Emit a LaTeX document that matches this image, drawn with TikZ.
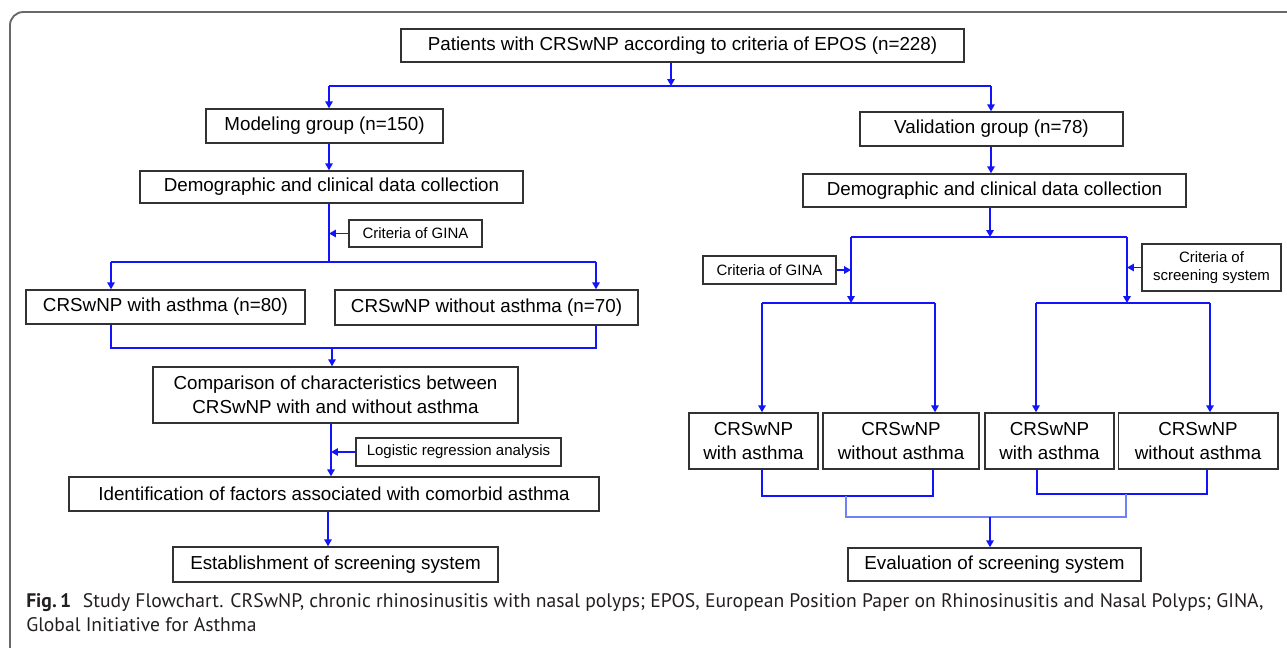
\documentclass[tikz,border=0pt]{standalone}
\usepackage{fontspec}
\setmainfont{Liberation Sans}
\newfontfamily\capfont{PT Sans}
\usetikzlibrary{arrows.meta}
\definecolor{linkblue}{RGB}{20,20,250}
\definecolor{lightlink}{RGB}{110,130,245}
\definecolor{boxgray}{RGB}{50,50,50}
\definecolor{framegray}{RGB}{105,105,105}
\definecolor{captext}{RGB}{35,31,32}
\tikzset{
  box/.style={draw=boxgray, line width=1.1pt, inner sep=0pt, align=center, font=\fontsize{14.1}{18}\selectfont},
  smallbox/.style={draw=boxgray, line width=1.1pt, inner sep=0pt, align=center, font=\fontsize{11.25}{14}\selectfont},
  link/.style={draw=linkblue, line width=1.1pt},
  lightline/.style={draw=lightlink, line width=1.1pt},
  arr/.style={link, -{Triangle[length=5.2pt, width=5.6pt]}},
}
\begin{document}
\begin{tikzpicture}[x=0.75pt, y=-0.75pt]
\useasboundingbox (0,0) rectangle (1287,647);
% frame
\draw[framegray, line width=1.4pt, rounded corners=10pt] (10,660) -- (10,12) -- (1300,12);

% nodes (left)
\node[box, minimum width=563*0.75pt, minimum height=33*0.75pt] (top) at (682.5,45.5) {Patients with CRSwNP according to criteria of EPOS (n=228)};
\node[box, minimum width=237*0.75pt, minimum height=34*0.75pt] (mod) at (324.5,126) {Modeling group (n=150)};
\node[box, minimum width=383*0.75pt, minimum height=32*0.75pt] (demL) at (331.5,187) {Demographic and clinical data collection};
\node[smallbox, minimum width=133*0.75pt, minimum height=27*0.75pt] (ginaL) at (415.5,233.5) {Criteria of GINA};
\node[box, minimum width=279*0.75pt, minimum height=34*0.75pt] (withL) at (165.5,307) {CRSwNP with asthma (n=80)};
\node[box, minimum width=303*0.75pt, minimum height=35*0.75pt] (withoutL) at (486.5,307.5) {CRSwNP without asthma (n=70)};
\node[box, minimum width=365*0.75pt, minimum height=56*0.75pt] (comp) at (335.5,395) {Comparison of characteristics between\\CRSwNP with and without asthma};
\node[smallbox, minimum width=205*0.75pt, minimum height=28*0.75pt] (logi) at (458.5,452) {Logistic regression analysis};
\node[box, minimum width=530*0.75pt, minimum height=34*0.75pt] (ident) at (334,494) {Identification of factors associated with comorbid asthma};
\node[box, minimum width=325*0.75pt, minimum height=35*0.75pt] (estab) at (335.5,564.5) {Establishment of screening system};

% nodes (right)
\node[box, minimum width=263*0.75pt, minimum height=34*0.75pt] (val) at (991.5,129) {Validation group (n=78)};
\node[box, minimum width=383*0.75pt, minimum height=33*0.75pt] (demR) at (994.5,190.5) {Demographic and clinical data collection};
\node[smallbox, minimum width=133*0.75pt, minimum height=28*0.75pt] (ginaR) at (769.5,270) {Criteria of GINA};
\node[smallbox, minimum width=139*0.75pt, minimum height=47*0.75pt] (scr) at (1211.5,267.5) {Criteria of\\screening system};
\node[box, minimum width=129*0.75pt, minimum height=56*0.75pt] (b1) at (753.5,441) {CRSwNP\\with asthma};
\node[box, minimum width=156*0.75pt, minimum height=56*0.75pt] (b2) at (901,441) {CRSwNP\\without asthma};
\node[box, minimum width=129*0.75pt, minimum height=56*0.75pt] (b3) at (1049.5,441) {CRSwNP\\with asthma};
\node[box, minimum width=159.5*0.75pt, minimum height=56*0.75pt] (b4) at (1198,441) {CRSwNP\\without asthma};
\node[box, minimum width=293*0.75pt, minimum height=33*0.75pt] (eval) at (994.5,564.5) {Evaluation of screening system};

% helper coordinates
\coordinate (s1) at (671,86);
\coordinate (sL) at (329,86);
\coordinate (sR) at (991,86);
\coordinate (g1) at (329,262);
\coordinate (gL) at (111,262);
\coordinate (gR) at (596,262);
\coordinate (m1) at (111,348);
\coordinate (m2) at (596,348);
\coordinate (mc) at (332,348);
\coordinate (cx) at (331,0);
\coordinate (ix) at (328,0);
\coordinate (r1) at (990,237);
\coordinate (rL) at (851,237);
\coordinate (rR) at (1127,237);
\coordinate (pL) at (851,303);
\coordinate (pR) at (1127,303);
\coordinate (pa) at (762,303);
\coordinate (pb) at (935,303);
\coordinate (pc) at (1036,303);
\coordinate (pd) at (1210,303);
\coordinate (q1) at (762,496);
\coordinate (q2) at (933,496);
\coordinate (q3) at (1037,494);
\coordinate (q4) at (1207,494);
\coordinate (qm) at (846,496);
\coordinate (qn) at (846,517);
\coordinate (qo) at (1126,517);
\coordinate (qp) at (1126,494);
\coordinate (qe) at (990,517);

% left connectors
\draw[arr] (top.south -| s1) -- (s1);
\draw[link] (sL) -- (sR);
\draw[arr] (sL) -- (mod.north -| sL);
\draw[arr] (sR) -- (val.north -| sR);
\draw[arr] (mod.south -| sL) -- (demL.north -| sL);
\draw[link] (demL.south -| g1) -- (g1);
\draw[arr] (ginaL.west) -- (ginaL.west -| g1);
\draw[link] (gL) -- (gR);
\draw[arr] (gL) -- (withL.north -| gL);
\draw[arr] (gR) -- (withoutL.north -| gR);
\draw[link] (withL.south -| m1) -- (m1) -- (m2) -- (withoutL.south -| m2);
\draw[arr] (mc) -- (comp.north -| mc);
\draw[arr] (comp.south -| cx) -- (ident.north -| cx);
\draw[arr] (logi.west) -- (logi.west -| cx);
\draw[arr] (ident.south -| ix) -- (estab.north -| ix);

% right connectors
\draw[arr] (val.south -| sR) -- (demR.north -| sR);
\draw[arr] (demR.south -| r1) -- (r1);
\draw[link] (rL) -- (rR);
\draw[arr] (rL) -- (pL);
\draw[arr] (rR) -- (pR);
\draw[arr] (ginaR.east) -- (ginaR.east -| rL);
\draw[arr] (scr.west) -- (scr.west -| rR);
\draw[link] (pa) -- (pb);
\draw[link] (pc) -- (pd);
\draw[arr] (pa) -- (b1.north -| pa);
\draw[arr] (pb) -- (b2.north -| pb);
\draw[arr] (pc) -- (b3.north -| pc);
\draw[arr] (pd) -- (b4.north -| pd);
\draw[link] (b1.south -| q1) -- (q1) -- (q2) -- (b2.south -| q2);
\draw[link] (b3.south -| q3) -- (q3) -- (q4) -- (b4.south -| q4);
\draw[lightline] (qm) -- (qn) -- (qo) -- (qp);
\draw[arr] (qe) -- (eval.north -| qe);

% caption
\node[anchor=north west, inner sep=0pt, align=left, text=captext, font=\capfont\fontsize{14.7}{18}\selectfont] (cap) at (26,593)
 {{\bfseries Fig.\,1}\hspace{0.6em}Study Flowchart. CRSwNP, chronic rhinosinusitis with nasal polyps; EPOS, European Position Paper on Rhinosinusitis and Nasal Polyps; GINA,\\Global Initiative for Asthma};
\end{tikzpicture}
\end{document}
